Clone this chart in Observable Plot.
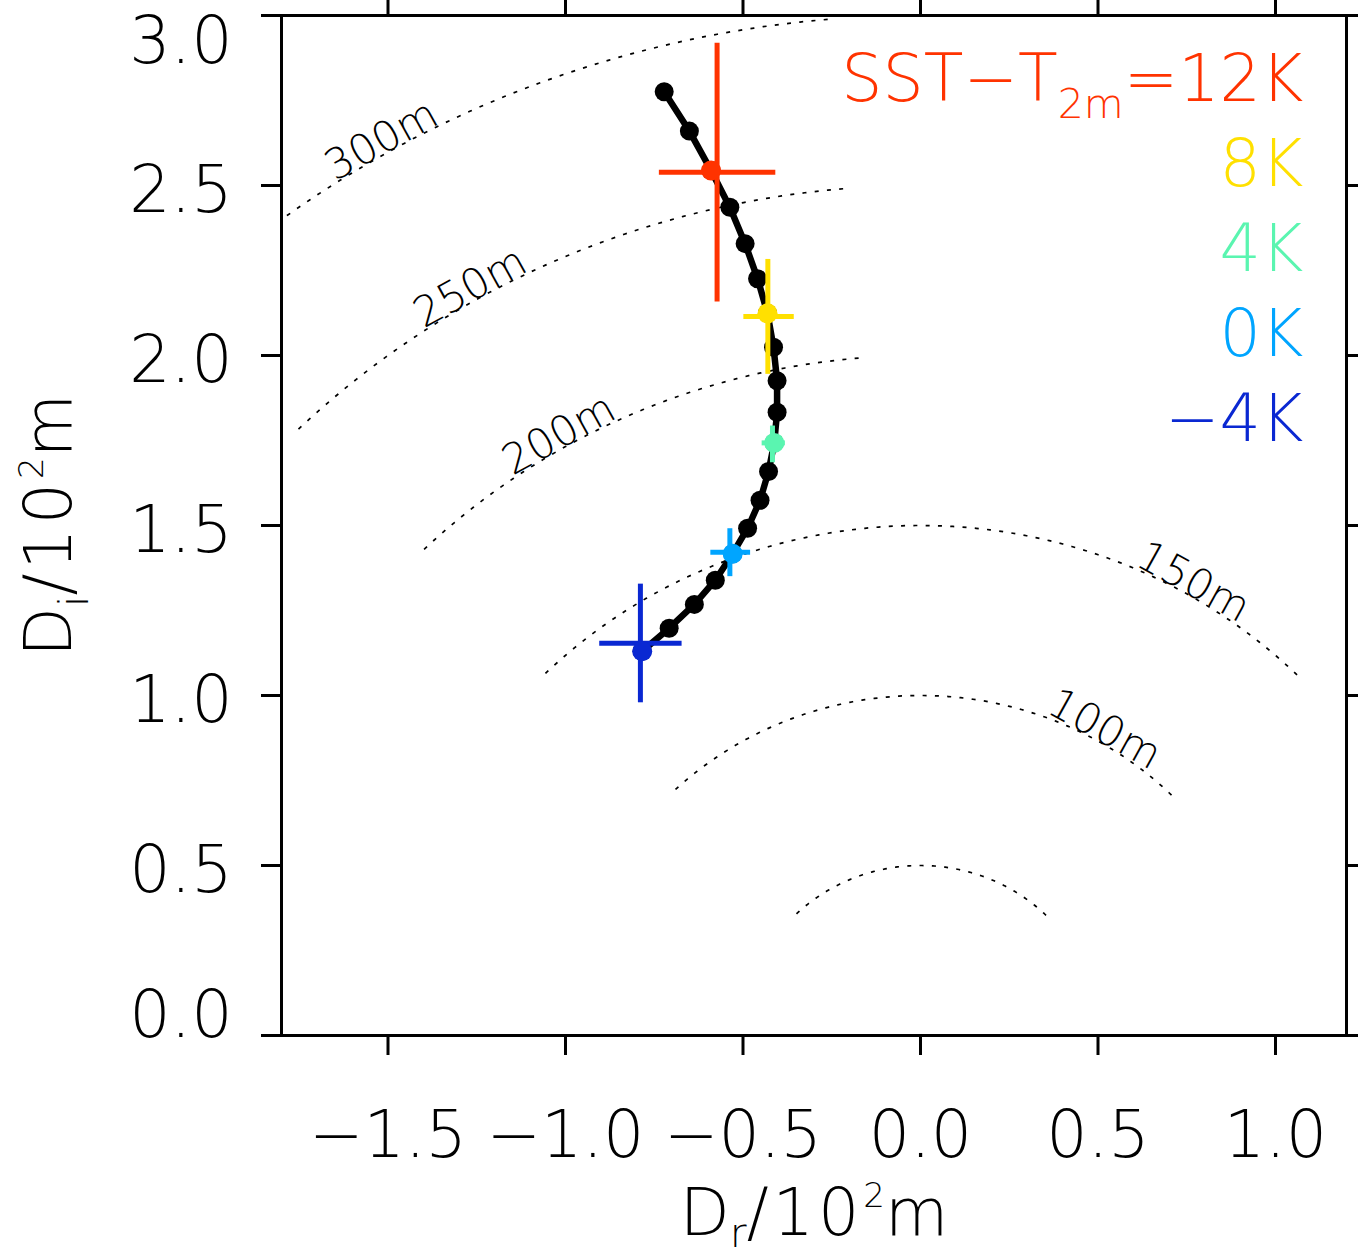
<!DOCTYPE html>
<html><head><meta charset="utf-8">
<script src="https://cdn.jsdelivr.net/npm/d3@7"></script>
<script src="https://cdn.jsdelivr.net/npm/@observablehq/plot@0.6"></script>
<style>html,body{margin:0;padding:0;background:#fff} svg{display:block}</style>
</head><body><div id="chart"></div>
<script>
// ---- data ----
// SST − T2m (K) for each point along the black curve
const sstMinusT2m = [14,13,12,11,10,9,8,7,6,5,4,3,2,1,0,-1,-2,-3,-4];
const dr = [-0.722,-0.651,-0.590,-0.537,-0.494,-0.459,-0.431,-0.414,-0.404,-0.404,-0.412,-0.428,-0.452,-0.487,-0.529,-0.578,-0.637,-0.708,-0.784];
const di = [2.776,2.660,2.544,2.436,2.329,2.226,2.124,2.024,1.926,1.833,1.743,1.659,1.574,1.492,1.417,1.339,1.268,1.198,1.130];

// highlighted cases
const caseValues = [12,8,4,0,-4];
const caseLegend = ["SST−T2m=12K","8K","4K","0K","−4K"];
const caseColors = ["#ff3300","#ffe000","#5af5b0","#00a5ff","#0a28d2"];
// error crosses
const crossX   = [-0.573,-0.430,-0.417,-0.537,-0.789];
const crossY   = [2.539,2.115,1.743,1.4215,1.154];
const crossXLo = [-0.737,-0.499,-0.4475,-0.592,-0.905];
const crossXHi = [-0.409,-0.357,-0.382,-0.480,-0.673];
const crossYLo = [2.159,1.946,1.686,1.351,0.980];
const crossYHi = [2.920,2.284,1.794,1.492,1.329];

// contours of |D| (10^2 m)
const contourRadius   = [0.5,1.0,1.5,2.0,2.5,3.0];
const contourLabels   = ["","100m","150m","200m","250m","300m"];
const contourStartDeg = [45,45,45,95,95,95];
const contourEndDeg   = [135,135,135,135,135,135];
const contourLabelDeg = [null,60,60,120,120,120];

const xTicks = [-1.5,-1.0,-0.5,0.0,0.5,1.0];
const xTickLabels = ["−1.5","−1.0","−0.5","0.0","0.5","1.0"];
const yTicks = [0,0.5,1,1.5,2,2.5,3];
const yTickLabels = ["0.0","0.5","1.0","1.5","2.0","2.5","3.0"];
const xLabel = "Dr/10²m";
const yLabel = "Di/10²m";

// ---- layout ----
const W = 1358, H = 1257;
const mL = 281, mR = 12, mT = 15, mB = 222;
const xDomain = [-1.8, 1.2], yDomain = [0, 3];
const kx = (W - mL - mR) / (xDomain[1] - xDomain[0]);
const ky = (H - mT - mB) / (yDomain[1] - yDomain[0]);
const FS = 65;

// ---- derived tables ----
const curve = sstMinusT2m.map((k, i) => ({k, x: dr[i], y: di[i]}));
const cases = caseValues.map((v, i) => {
  const p = curve.find(d => d.k === v);
  return {v, color: caseColors[i], px: p.x, py: p.y,
    cx: crossX[i], cy: crossY[i], xlo: crossXLo[i], xhi: crossXHi[i], ylo: crossYLo[i], yhi: crossYHi[i]};
});
const arcs = [];
contourRadius.forEach((r, j) => {
  for (let a = contourStartDeg[j]; a <= contourEndDeg[j] + 1e-9; a += 0.5) {
    const t = a * Math.PI / 180;
    arcs.push({r, x: r * Math.cos(t), y: r * Math.sin(t)});
  }
});
const cLabels = contourRadius.map((r, j) => {
  if (contourLabelDeg[j] == null) return null;
  const t = contourLabelDeg[j] * Math.PI / 180;
  const rot = Math.atan2(Math.cos(t) * ky, Math.sin(t) * kx) * 180 / Math.PI;
  return {x: r * Math.cos(t), y: r * Math.sin(t), text: contourLabels[j], rot};
}).filter(d => d);

const yTickRows = yTicks.map((v, i) => ({v, label: yTickLabels[i]}));
const yMid = yTickRows.filter(d => d.v > yDomain[0] && d.v < yDomain[1]);
const yTop = yTickRows.filter(d => d.v === yDomain[1]);
const yBot = yTickRows.filter(d => d.v === yDomain[0]);

const legendMarks = caseLegend.map((t, i) => Plot.text([t], {
  text: d => d, frameAnchor: "top-right", dx: -43, dy: 85 * (i + 1),
  textAnchor: "end", lineAnchor: "bottom", fill: caseColors[i], fontSize: FS
}));

const chart = Plot.plot({
  width: W, height: H,
  marginLeft: mL, marginRight: mR, marginTop: mT, marginBottom: mB,
  x: {domain: xDomain},
  y: {domain: yDomain},
  color: {type: "identity"},
  style: {fontFamily: "'DejaVu Sans', sans-serif", fontSize: FS + "px", fontWeight: "200", background: "#fff", color: "#000"},
  marks: [
    Plot.line(arcs, {x: "x", y: "y", z: "r", stroke: "black", strokeWidth: 1.7, strokeDasharray: "4,8.3", strokeLinecap: "butt", clip: true}),
    Plot.text(cLabels, {x: "x", y: "y", text: "text", rotate: "rot", textAnchor: "middle", lineAnchor: "bottom", fontSize: 42, fill: "black"}),
    Plot.line(curve, {x: "x", y: "y", stroke: "black", strokeWidth: 6.5}),
    Plot.dot(curve, {x: "x", y: "y", r: 9.5, fill: "black"}),
    Plot.link(cases, {x1: "xlo", x2: "xhi", y1: "cy", y2: "cy", stroke: "color", strokeWidth: 5, strokeLinecap: "butt"}),
    Plot.link(cases, {x1: "cx", x2: "cx", y1: "ylo", y2: "yhi", stroke: "color", strokeWidth: 5, strokeLinecap: "butt"}),
    Plot.dot(cases, {x: "px", y: "py", r: 10, fill: "color"}),
    Plot.frame({stroke: "black", strokeWidth: 3}),
    Plot.axisX(xTicks, {anchor: "bottom", tickSize: 20, tickPadding: 55, strokeWidth: 3, fontSize: FS,
      tickFormat: d => xTickLabels[xTicks.indexOf(d)], label: null}),
    Plot.axisX(xTicks, {anchor: "top", tickSize: 20, strokeWidth: 3, tickFormat: () => "", label: null}),
    Plot.axisY(yTicks, {anchor: "left", tickSize: 20, strokeWidth: 3, tickFormat: () => "", label: null}),
    Plot.axisY(yTicks, {anchor: "right", tickSize: 20, strokeWidth: 3, tickFormat: () => "", label: null}),
    Plot.text(yMid, {y: "v", text: "label", frameAnchor: "left", dx: -49, dy: 26, textAnchor: "end", lineAnchor: "bottom", fontSize: FS}),
    Plot.text(yTop, {y: "v", text: "label", frameAnchor: "left", dx: -49, dy: 47, textAnchor: "end", lineAnchor: "bottom", fontSize: FS}),
    Plot.text(yBot, {y: "v", text: "label", frameAnchor: "left", dx: -49, dy: 1, textAnchor: "end", lineAnchor: "bottom", fontSize: FS}),
    Plot.text([xLabel], {text: d => d, frameAnchor: "bottom", dy: 199, textAnchor: "middle", lineAnchor: "bottom", fontSize: FS}),
    Plot.text([yLabel], {text: d => d, frameAnchor: "left", dx: -211, rotate: -90, textAnchor: "middle", lineAnchor: "bottom", fontSize: FS}),
    ...legendMarks
  ]
});
document.getElementById("chart").appendChild(chart);

// ---- rich text (sub/superscripts) ----
const rich = {
  [caseLegend[0]]: [{t: "SST−T"}, {t: "2m", size: 41, shift: 17}, {t: "=12K"}],
  [xLabel]: [{t: "D"}, {t: "r", size: 41, shift: 12}, {t: "/", ls: 4}, {t: "10", ls: 4}, {t: "2", size: 34, shift: -28}, {t: "m"}],
  [yLabel]: [{t: "D"}, {t: "i", size: 41, shift: 17}, {t: "/", ls: 4}, {t: "10", ls: 4}, {t: "2", size: 34, shift: -28}, {t: "m"}]
};
chart.querySelectorAll("text").forEach(el => {
  const parts = rich[el.textContent];
  if (!parts) return;
  el.textContent = "";
  let cur = 0;
  for (const p of parts) {
    const ts = document.createElementNS("http://www.w3.org/2000/svg", "tspan");
    const target = p.shift || 0;
    ts.setAttribute("dy", target - cur);
    cur = target;
    if (p.size) ts.setAttribute("font-size", p.size);
    if (p.ls) ts.setAttribute("letter-spacing", p.ls);
    ts.textContent = p.t;
    el.appendChild(ts);
  }
});
</script>
</body></html>
